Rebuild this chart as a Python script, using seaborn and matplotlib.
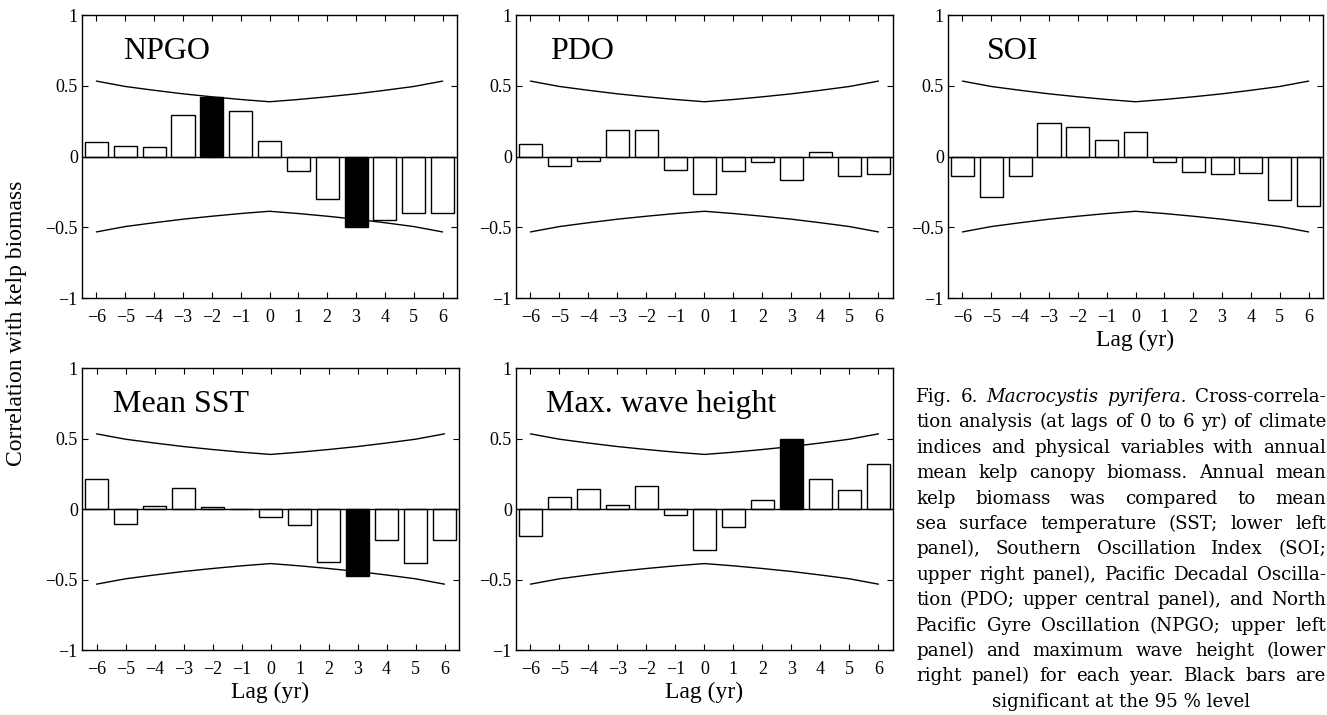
import matplotlib
matplotlib.use('Agg')
import matplotlib.pyplot as plt
import pandas as pd
import seaborn as sns

# lags (yr) shared by every panel
lags = [-6, -5, -4, -3, -2, -1, 0, 1, 2, 3, 4, 5, 6]

# cross-correlation with kelp biomass
npgo = [0.10, 0.073, 0.07, 0.29, 0.42, 0.325, 0.108, -0.104, -0.30, -0.495, -0.45, -0.40, -0.40]
pdo = [0.085, -0.066, -0.031, 0.19, 0.19, -0.094, -0.264, -0.099, -0.042, -0.165, 0.033, -0.139, -0.127]
soi = [-0.139, -0.288, -0.139, 0.238, 0.21, 0.118, 0.175, -0.042, -0.108, -0.127, -0.118, -0.304, -0.347]
sst = [0.21, -0.104, 0.019, 0.147, 0.014, -0.003, -0.059, -0.111, -0.379, -0.478, -0.222, -0.386, -0.22]
wave = [-0.191, 0.087, 0.142, 0.026, 0.163, -0.045, -0.288, -0.128, 0.064, 0.494, 0.215, 0.132, 0.319]

# lags significant at the 95 % level (black bars)
npgo_sig = [-2, 3]
pdo_sig = []
soi_sig = []
sst_sig = [3]
wave_sig = [3]

# 95 % confidence limit (upper line, the lower one is its mirror)
conf = [0.533, 0.495, 0.468, 0.443, 0.422, 0.403, 0.387, 0.403, 0.422, 0.443, 0.468, 0.495, 0.533]

# tick labels
xtick_labels = ['\u22126', '\u22125', '\u22124', '\u22123', '\u22122', '\u22121',
                '0', '1', '2', '3', '4', '5', '6']
ytick_vals = [-1, -0.5, 0, 0.5, 1]
ytick_labels = ['\u22121', '\u22120.5', '0', '0.5', '1']

caption = [
    "Fig. 6. Macrocystis pyrifera. Cross-correla-",
    "tion analysis (at lags of 0 to 6 yr) of climate",
    "indices and physical variables with annual",
    "mean kelp canopy biomass. Annual mean",
    "kelp biomass was compared to mean",
    "sea surface temperature (SST; lower left",
    "panel), Southern Oscillation Index (SOI;",
    "upper right panel), Pacific Decadal Oscilla-",
    "tion (PDO; upper central panel), and North",
    "Pacific Gyre Oscillation (NPGO; upper left",
    "panel) and maximum wave height (lower",
    "right panel) for each year. Black bars are",
    "significant at the 95 % level",
]
italic_words = ['Macrocystis', 'pyrifera.']

sns.set_style('ticks', {'axes.edgecolor': 'black', 'xtick.color': 'black',
                        'ytick.color': 'black', 'text.color': 'black',
                        'axes.labelcolor': 'black'})
plt.rcParams['font.family'] = ['Liberation Serif', 'DejaVu Serif']

W, H = 1327, 715
fig = plt.figure(figsize=(W / 100, H / 100), dpi=100)

# (name, values, significant lags, [left, bottom, width, height], title x, xlabel)
panels = [
    ('NPGO', npgo, npgo_sig, [0.0618, 0.5832, 0.2826, 0.3958], 0.11, False),
    ('PDO', pdo, pdo_sig, [0.3888, 0.5832, 0.2841, 0.3958], 0.09, False),
    ('SOI', soi, soi_sig, [0.7144, 0.5832, 0.2826, 0.3958], 0.104, True),
    ('Mean SST', sst, sst_sig, [0.0618, 0.0909, 0.2841, 0.3944], 0.083, True),
    ('Max. wave height', wave, wave_sig, [0.3888, 0.0909, 0.2841, 0.3944], 0.08, True),
]

for name, vals, sig, rect, tx, show_xlabel in panels:
    ax = fig.add_axes(rect)
    df = pd.DataFrame({'lag': lags, 'r': vals,
                       'sig': ['yes' if l in sig else 'no' for l in lags]})
    sns.barplot(data=df, x='lag', y='r', hue='sig', hue_order=['no', 'yes'],
                palette={'no': 'white', 'yes': 'black'}, native_scale=True,
                dodge=False, width=0.8, edgecolor='black', linewidth=1,
                saturation=1, legend=False, ax=ax)
    ax.axhline(0, color='black', linewidth=1)
    sns.lineplot(x=lags, y=conf, color='black', linewidth=1, ax=ax)
    sns.lineplot(x=lags, y=[-c for c in conf], color='black', linewidth=1, ax=ax)

    ax.set_xlim(-6.5, 6.5)
    ax.set_ylim(-1, 1)
    ax.set_xticks(lags)
    ax.set_xticklabels(xtick_labels)
    ax.set_yticks(ytick_vals)
    ax.set_yticklabels(ytick_labels)
    ax.tick_params(direction='in', top=True, right=True, length=4, width=0.8,
                   labelsize=13)
    ax.tick_params(axis='x', pad=8)
    ax.tick_params(axis='y', pad=3)
    for sp in ax.spines.values():
        sp.set_linewidth(1)
        sp.set_color('black')
    ax.set_ylabel('')
    ax.set_xlabel('Lag (yr)' if show_xlabel else '', fontsize=17, labelpad=3)
    ax.text(tx, 0.845, name, transform=ax.transAxes, fontsize=23, va='baseline')

fig.text(17 / W, 1 - 323 / H, 'Correlation with kelp biomass', rotation=90,
         fontsize=17, ha='center', va='center')

# justified caption in the lower right corner
renderer = fig.canvas.get_renderer()


def text_width(s, size, style='normal'):
    t = fig.text(0, 0, s, family='DejaVu Serif', fontsize=size, style=style)
    w = t.get_window_extent(renderer).width
    t.remove()
    return w


x_left, x_right = 916, 1326
widest = max(text_width(line, 10) for line in caption[:-1])
cap_size = 10 * (x_right - x_left - 6) / widest

base0, step = 402, 25.4
for i, line in enumerate(caption):
    y = 1 - (base0 + i * step) / H
    if i == len(caption) - 1:
        fig.text((x_left + x_right) / 2 / W, y, line, family='DejaVu Serif',
                 fontsize=cap_size, ha='center', va='baseline')
        continue
    words = line.split(' ')
    styles = ['italic' if w in italic_words else 'normal' for w in words]
    widths = [text_width(w, cap_size, s) for w, s in zip(words, styles)]
    gap = (x_right - x_left - sum(widths)) / (len(words) - 1)
    x = x_left
    for w, s, wd in zip(words, styles, widths):
        fig.text(x / W, y, w, family='DejaVu Serif', fontsize=cap_size,
                 style=s, ha='left', va='baseline')
        x += wd + gap

plt.savefig('out.png', dpi=100)
